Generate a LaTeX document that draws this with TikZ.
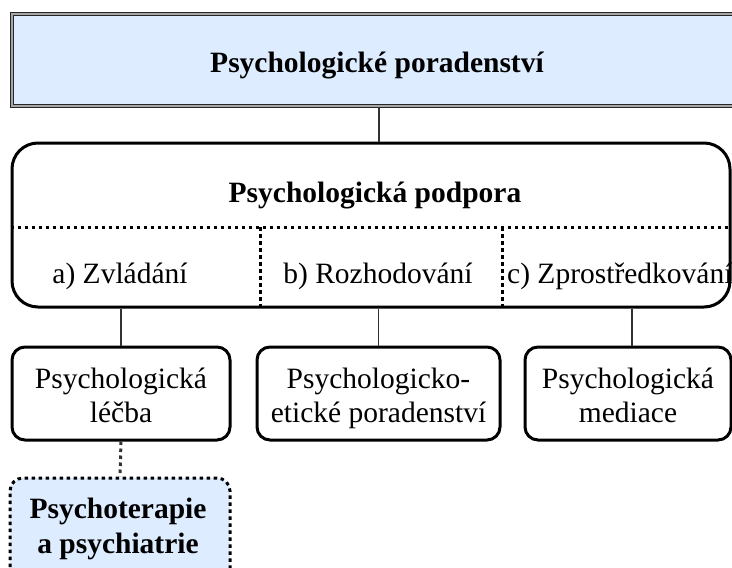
\documentclass[tikz,border=0pt]{standalone}
\usepackage{fontspec}
\setmainfont{Liberation Serif}
\definecolor{lightfill}{RGB}{221,236,255}
\definecolor{conn}{RGB}{50,50,50}
\begin{document}
\begin{tikzpicture}[x=1pt,y=-1pt,
  every node/.style={font=\fontsize{29.5}{34}\selectfont, inner sep=0pt},
  topbox/.style={draw=black!85, line width=1.3pt, double=black!35, double distance=2pt, fill=lightfill, minimum width=734pt, minimum height=92pt},
  bigbox/.style={draw=black, line width=3pt, rounded corners=26pt, minimum width=718pt, minimum height=164pt},
  leafbox/.style={draw=black, line width=3pt, rounded corners=13pt, minimum height=93pt},
  dotbox/.style={draw=black, line width=3pt, dash pattern=on 3.5pt off 3.5pt, rounded corners=13pt, fill=lightfill},
  divider/.style={line width=3pt, dash pattern=on 3.5pt off 3.5pt},
  conline/.style={draw=conn, line width=1.8pt},
  lbl/.style={anchor=base},
  blbl/.style={anchor=base, font=\fontsize{29.5}{34}\selectfont\bfseries}
]
\useasboundingbox (0,0) rectangle (732,568);
\clip (0,0) rectangle (732,568);
% top box
\node[topbox] (top) at (379,60) {};
\node[blbl] (toptext) at (377,72) {Psychologické poradenství};
% big box
\node[bigbox] (big) at (371,225) {};
\coordinate (divL) at (big.west |- 0,227);
\coordinate (divR) at (big.east |- 0,227);
\draw[divider] (divL) -- (divR);
\coordinate (v1t) at (260,227);
\coordinate (v2t) at (502,227);
\draw[divider] (v1t) -- (v1t |- big.south);
\draw[divider] (v2t) -- (v2t |- big.south);
\node[blbl] (bigtext) at (375,202) {Psychologická podpora};
\node[lbl] (ta) at (120,283) {a) Zvládání};
\node[lbl] (tb) at (378,283) {b) Rozhodování};
\node[lbl, anchor=base west] (tc) at (507,283) {c) Zprostředkování};
% leaf boxes
\node[leafbox, minimum width=218pt] (b1) at (121,393.5) {};
\node[leafbox, minimum width=243pt] (b2) at (378.5,393.5) {};
\node[leafbox, minimum width=206pt] (b3) at (628,393.5) {};
\node[lbl] (b1a) at (b1.center |- 0,388) {Psychologická};
\node[lbl] (b1b) at (b1.center |- 0,422) {léčba};
\node[lbl] (b2a) at (b2.center |- 0,388) {Psychologicko-};
\node[lbl] (b2b) at (b2.center |- 0,422) {etické poradenství};
\node[lbl] (b3a) at (b3.center |- 0,388) {Psychologická};
\node[lbl] (b3b) at (b3.center |- 0,422) {mediace};
% bottom dotted box
\node[dotbox, minimum width=220pt, minimum height=124pt] (b4) at (120,540) {};
\node[blbl] (b4a) at (118,518) {Psychoterapie};
\node[blbl] (b4b) at (118,553) {a psychiatrie};
% connectors
\draw[conline] (top.south -| 379,0) -- (big.north -| 379,0);
\draw[conline] (big.south -| b1.north) -- (b1.north);
\draw[conline] (big.south -| b2.north) -- (b2.north);
\draw[conline] (big.south -| 632,0) -- (b3.north -| 632,0);
\draw[divider, draw=conn] (b1.south) -- (b4.north);
\end{tikzpicture}
\end{document}
